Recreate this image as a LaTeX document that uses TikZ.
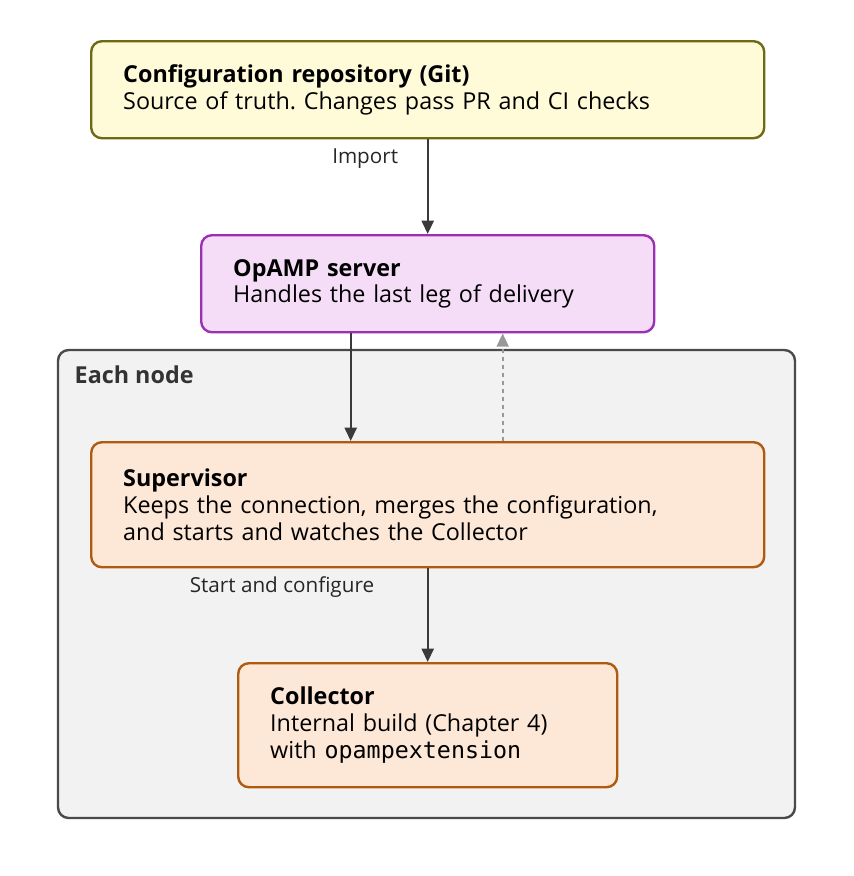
\documentclass[tikz,border=0pt]{standalone}
\usepackage{fontspec}
\setmainfont{Open Sans}
\setmonofont{DejaVu Sans Mono}
\usetikzlibrary{arrows.meta,calc}
\definecolor{cfgfill}{HTML}{FFFBD9}
\definecolor{cfgdraw}{HTML}{6E6A12}
\definecolor{srvfill}{HTML}{F5DDF8}
\definecolor{srvdraw}{HTML}{9B30B5}
\definecolor{nodefill}{HTML}{FDE7D7}
\definecolor{nodedraw}{HTML}{B05A10}
\definecolor{groupfill}{HTML}{F2F2F2}
\definecolor{groupdraw}{HTML}{4A4A4A}
\definecolor{arrowcol}{HTML}{3A3A3A}

\begin{document}
\frenchspacing
\begin{tikzpicture}[x=0.75pt,y=-0.75pt,
    every node/.style={font=\fontsize{17.5}{20}\selectfont},
    box/.style={rounded corners=8pt, line width=1.8pt, anchor=north west,
        align=left, inner xsep=24pt, inner ysep=0pt},
    flow/.style={-{Triangle[length=10pt,width=9pt]}, line width=1.7pt, draw=arrowcol},
    lbl/.style={font=\fontsize{15.5}{18}\selectfont, text=black!85}
  ]
  \useasboundingbox (0,0) rectangle (854,876);

  % node group
  \draw[rounded corners=8pt, line width=1.8pt, draw=groupdraw, fill=groupfill]
    (58,350) rectangle (795,818);
  \node[anchor=west, font=\fontsize{17.5}{20}\selectfont\bfseries, text=black!80] (grp) at (70,375) {Each node};

  \node[box, fill=cfgfill, draw=cfgdraw, text width=456.75pt, minimum width=504.75pt, minimum height=72.75pt]
    (cfg) at (90,40) {\textbf{Configuration repository (Git)}\\Source of truth. Changes pass PR and CI checks};
  \node[box, fill=srvfill, draw=srvdraw, text width=291.75pt, minimum width=339.75pt, minimum height=72.75pt]
    (srv) at (200,234) {\textbf{OpAMP server}\\Handles the last leg of delivery};
  \node[box, fill=nodefill, draw=nodedraw, text width=456.75pt, minimum width=504.75pt, minimum height=93.75pt]
    (sup) at (90,441) {\textbf{Supervisor}\\Keeps the connection, merges the configuration,\\and starts and watches the Collector};
  \node[box, fill=nodefill, draw=nodedraw, text width=236.25pt, minimum width=284.25pt, minimum height=93pt]
    (col) at (237,662) {\textbf{Collector}\\Internal build (Chapter 4)\\with \texttt{opampextension}};

  % connectors
  \draw[flow] (cfg.south) -- node[lbl, pos=0.2, left=18pt] {Import} (srv.north);
  \draw[flow] ($(srv.south)+(-77,0)$) -- ($(sup.north)+(-77,0)$);
  \draw[flow, dashed, draw=gray!80, -{Triangle[length=10pt,width=9pt,fill=gray!80]}]
    ($(sup.north)+(75,0)$) -- ($(srv.south)+(75,0)$);
  \draw[flow] (sup.south) -- node[lbl, pos=0.2, left=36pt] {Start and configure} (col.north);
\end{tikzpicture}
\end{document}
